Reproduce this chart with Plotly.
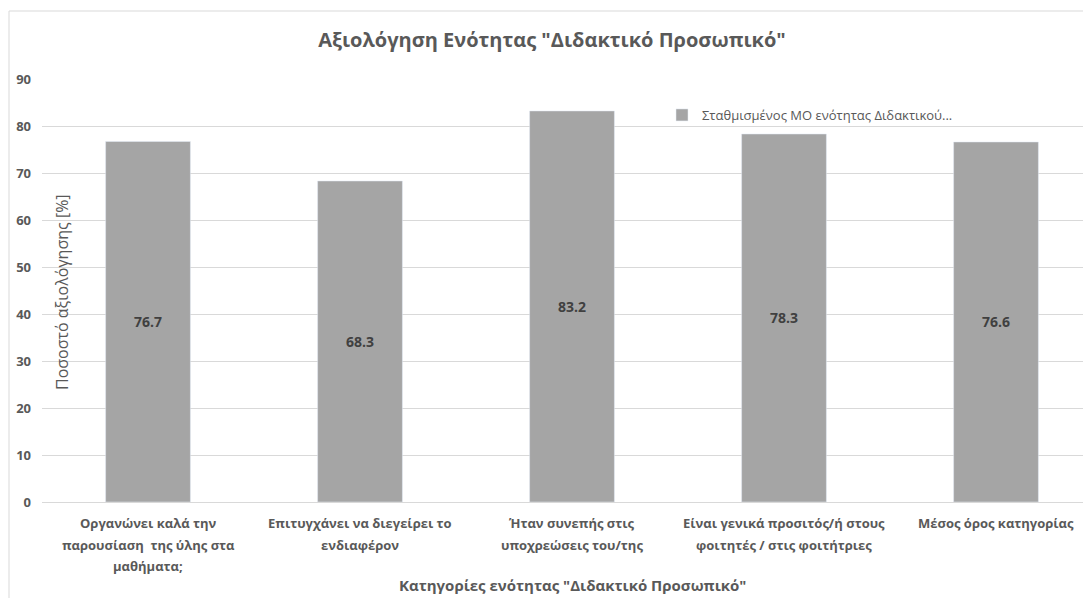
import plotly.graph_objects as go

categories = [
    "Οργανώνει καλά την<br>παρουσίαση  της ύλης στα<br>μαθήματα;",
    "Επιτυγχάνει να διεγείρει το<br>ενδιαφέρον",
    "Ήταν συνεπής στις<br>υποχρεώσεις του/της",
    "Είναι γενικά προσιτός/ή στους<br>φοιτητές / στις φοιτήτριες",
    "Μέσος όρος κατηγορίας",
]
values = [76.7, 68.3, 83.2, 78.3, 76.6]
series_name = "Σταθμισμένος ΜΟ ενότητας Διδακτικού..."

title = 'Αξιολόγηση Ενότητας "Διδακτικό Προσωπικό"'
x_title = 'Κατηγορίες ενότητας "Διδακτικό Προσωπικό"'
y_title = "Ποσοστό αξιολόγησης [%]"

FONT = "Open Sans"
GREY = "#595959"

# the page body has an 8px margin, so work in page pixels and shift
OFF = 8
W, H = 1091 - OFF, 598 - OFF
L, T, B = 42 - OFF, 79 - OFF, 598 - 502
PW, PH = W - L, H - T - B
CAT_W = 212


def px_x(p):
    return (p - OFF - L) / PW


def px_y(p):
    return (H - B - (p - OFF)) / PH


fig = go.Figure()
fig.add_bar(
    x=list(range(len(categories))),
    y=values,
    name=series_name,
    marker={"color": "#a5a5a5"},
    text=[f"{v:.1f}" for v in values],
    textposition="inside",
    insidetextanchor="middle",
    textangle=0,
    textfont={"family": FONT, "size": 14, "color": "#404040", "weight": "bold"},
    showlegend=True,
)

# category labels, one annotation per line to get the wider line spacing
cat_notes = []
for i, cat in enumerate(categories):
    for k, line in enumerate(cat.split("<br>")):
        cat_notes.append(
            {
                "text": f"<b>{line}</b>",
                "xref": "x",
                "yref": "paper",
                "x": i,
                "y": px_y(523 + 21.5 * k),
                "xanchor": "center",
                "yanchor": "middle",
                "showarrow": False,
                "font": {"size": 13, "color": GREY},
            }
        )

fig.update_layout(
    width=W,
    height=H,
    margin={"l": L, "r": 0, "t": T, "b": B},
    paper_bgcolor="white",
    plot_bgcolor="white",
    bargap=0.6,
    font={"family": FONT, "color": GREY},
    title={
        "text": f"<b>{title}</b>",
        "x": (552 - OFF) / W,
        "xanchor": "center",
        "y": 1 - (40 - OFF) / H,
        "yanchor": "middle",
        "font": {"size": 20, "color": GREY, "family": FONT},
    },
    legend={
        "x": px_x(662),
        "y": px_y(115),
        "xanchor": "left",
        "yanchor": "middle",
        "font": {"size": 13, "color": GREY},
        "itemwidth": 30,
        "bgcolor": "rgba(0,0,0,0)",
    },
    xaxis={
        "range": [-0.5, -0.5 + PW / CAT_W],
        "showgrid": False,
        "showline": False,
        "showticklabels": False,
    },
    yaxis={
        "range": [0, 90],
        "dtick": 10,
        "showgrid": True,
        "gridcolor": "#d9d9d9",
        "gridwidth": 1,
        "zeroline": True,
        "zerolinecolor": "#d9d9d9",
        "zerolinewidth": 1,
        "tickfont": {"size": 13, "color": GREY, "weight": "bold"},
        "ticklabelstandoff": 10,
    },
    shapes=[
        {
            "type": "rect",
            "xref": "paper",
            "yref": "paper",
            "x0": px_x(9),
            "x1": px_x(1200),
            "y0": px_y(700),
            "y1": px_y(11),
            "line": {"color": "#d9d9d9", "width": 1},
            "layer": "below",
        }
    ],
    annotations=cat_notes
    + [
        {
            "text": y_title,
            "xref": "paper",
            "yref": "paper",
            "x": px_x(62),
            "y": px_y(292),
            "xanchor": "center",
            "yanchor": "middle",
            "textangle": -90,
            "showarrow": False,
            "font": {"size": 16, "color": GREY},
        },
        {
            "text": f"<b>{x_title}</b>",
            "xref": "paper",
            "yref": "paper",
            "x": px_x(572),
            "y": px_y(585),
            "xanchor": "center",
            "yanchor": "middle",
            "showarrow": False,
            "font": {"size": 15, "color": GREY},
        },
    ],
)

fig.write_html("out.html")
